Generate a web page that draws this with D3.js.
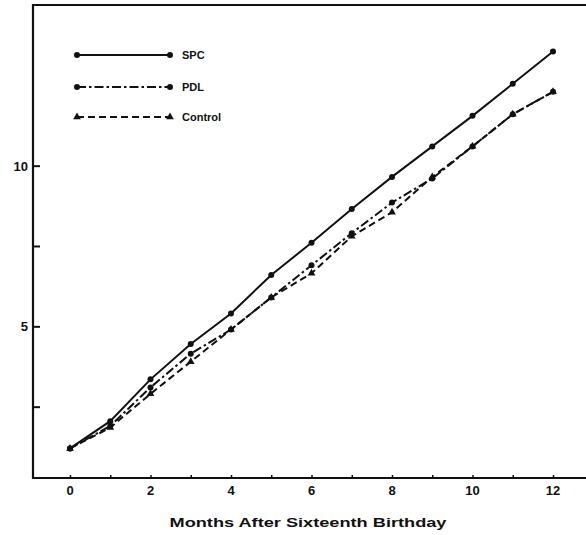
<!DOCTYPE html>
<html>
<head>
<meta charset="utf-8">
<script src="https://cdn.jsdelivr.net/npm/d3@7"></script>
<style>
  body { margin: 0; background: #fff; }
  text { font-family: "Liberation Sans", Arial, sans-serif; fill: #111; }
</style>
</head>
<body>
<div id="chart"></div>
<script>
(function () {

  // Data
  const months = [0, 1, 2, 3, 4, 5, 6, 7, 8, 9, 10, 11, 12]
  const spc = [1.2, 2.05, 3.35, 4.45, 5.4, 6.6, 7.6, 8.65, 9.65, 10.6, 11.55, 12.55, 13.55]
  const pdl = [1.2, 1.9, 3.1, 4.15, 4.9, 5.9, 6.9, 7.9, 8.85, 9.6, 10.6, 11.6, 12.3]
  const control = [1.2, 1.85, 2.9, 3.9, 4.9, 5.9, 6.65, 7.8, 8.55, 9.65, 10.6, 11.6, 12.3]
  const seriesNames = ["SPC", "PDL", "Control"]
  const yTicks = [2.5, 5, 7.5, 10]
  const yLabels = [5, 10]
  const xTitle = "Months After Sixteenth Birthday"

  const W = 586, H = 535

  const svg = d3.select("#chart").append("svg")
      .attr("width", W)
      .attr("height", H)

  const x = d3.scaleLinear().domain([0, 12]).range([70, 553])
  const y = d3.scaleLinear().domain([0, 15]).range([487, 5])

  const left = 33, bottom = 478, top = 5

  // Frame: left axis, top border, bottom axis
  svg.append("path")
    .attr("d", `M${W},${top}H${left}V${bottom}H${W}`)
    .attr("fill", "none")
    .attr("stroke", "#111")
    .attr("stroke-width", 2.2)

  // x axis ticks (inward) and labels
  const xAxis = d3.axisTop(x)
    .tickValues(months)
    .tickSize(3)
    .tickFormat("")
  svg.append("g")
    .attr("transform", `translate(0,${bottom})`)
    .call(xAxis)
    .call(g => g.select(".domain").remove())
    .call(g => g.selectAll("line").attr("stroke", "#111").attr("stroke-width", 1.5))

  svg.append("g").selectAll("text")
    .data(months.filter(m => m % 2 === 0))
    .join("text")
    .attr("x", d => x(d))
    .attr("y", 495)
    .attr("text-anchor", "middle")
    .attr("font-size", 13)
    .attr("font-weight", "bold")
    .text(d => d)

  // y axis ticks (inward)
  const yAxis = d3.axisRight(y)
    .tickValues(yTicks)
    .tickSize(7)
    .tickFormat("")
  svg.append("g")
    .attr("transform", `translate(${left},0)`)
    .call(yAxis)
    .call(g => g.select(".domain").remove())
    .call(g => g.selectAll("line").attr("stroke", "#111").attr("stroke-width", 2))

  svg.append("g").selectAll("text")
    .data(yLabels)
    .join("text")
    .attr("x", 28)
    .attr("y", d => y(d) + 5)
    .attr("text-anchor", "end")
    .attr("font-size", 13)
    .attr("font-weight", "bold")
    .text(d => d)

  // x title
  svg.append("text")
    .attr("x", 308)
    .attr("y", 527)
    .attr("text-anchor", "middle")
    .attr("font-size", 13)
    .attr("font-weight", "900")
    .attr("textLength", 277)
    .attr("lengthAdjust", "spacingAndGlyphs")
    .text(xTitle)

  const line = d3.line()
    .x((d, i) => x(months[i]))
    .y(d => y(d))

  const styles = [
    { values: spc, dash: null, marker: "circle" },
    { values: pdl, dash: "9,3,2.5,3", marker: "circle" },
    { values: control, dash: "7,4", marker: "triangle" }
  ]

  const triangle = d3.symbol().type(d3.symbolTriangle).size(26)

  styles.forEach(s => {
    svg.append("path")
      .datum(s.values)
      .attr("d", line)
      .attr("fill", "none")
      .attr("stroke", "#111")
      .attr("stroke-width", 2)
      .attr("stroke-dasharray", s.dash)

    if (s.marker === "circle") {
      svg.append("g").selectAll("circle")
        .data(s.values)
        .join("circle")
        .attr("cx", (d, i) => x(months[i]))
        .attr("cy", d => y(d))
        .attr("r", 3)
        .attr("fill", "#111")
    } else {
      svg.append("g").selectAll("path")
        .data(s.values)
        .join("path")
        .attr("d", triangle)
        .attr("transform", (d, i) => `translate(${x(months[i])},${y(d)})`)
        .attr("fill", "#111")
    }
  })

  // Legend
  const legendY = [55, 87, 117]
  styles.forEach((s, i) => {
    const g = svg.append("g")
    g.append("line")
      .attr("x1", 77).attr("x2", 170)
      .attr("y1", legendY[i]).attr("y2", legendY[i])
      .attr("stroke", "#111")
      .attr("stroke-width", 2.2)
      .attr("stroke-dasharray", s.dash)
    if (s.marker === "circle") {
      g.selectAll("circle")
        .data([77, 170])
        .join("circle")
        .attr("cx", d => d)
        .attr("cy", legendY[i])
        .attr("r", 3)
        .attr("fill", "#111")
    } else {
      g.selectAll("path")
        .data([77, 170])
        .join("path")
        .attr("d", triangle)
        .attr("transform", d => `translate(${d},${legendY[i]})`)
        .attr("fill", "#111")
    }
    g.append("text")
      .attr("x", 182)
      .attr("y", legendY[i] + 4)
      .attr("font-size", 11)
      .attr("font-weight", "900")
      .text(seriesNames[i])
  })

})();
</script>
</body>
</html>
